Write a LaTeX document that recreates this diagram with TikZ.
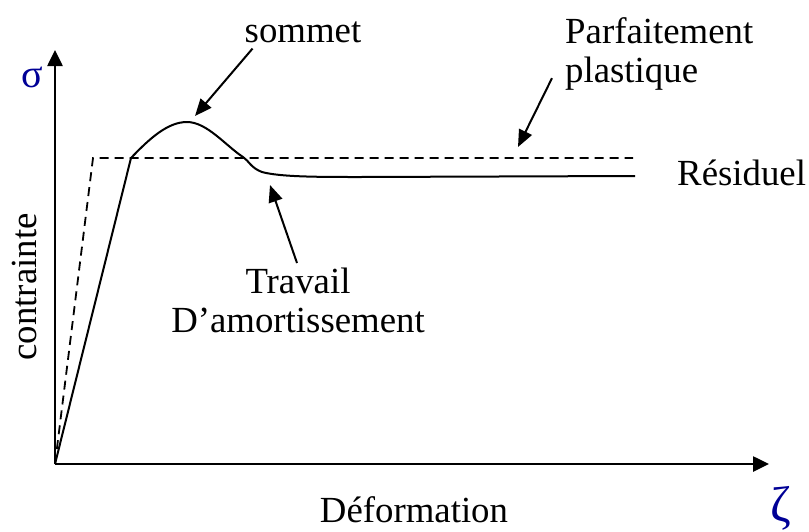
\documentclass[tikz,border=0pt]{standalone}
\usepackage{fontspec}
\setmainfont{Liberation Serif}
\usetikzlibrary{arrows.meta}
\definecolor{greekblue}{RGB}{0,0,150}

\begin{document}
\begin{tikzpicture}[x=1pt,y=-1pt,
  axis/.style={line width=2.6pt,-{Triangle[length=16pt,width=15pt]}},
  pointer/.style={line width=2pt,-{Triangle[length=17pt,width=14pt]}},
  curve/.style={line width=2pt,line join=round},
  plastic/.style={line width=1.8pt,dash pattern=on 9pt off 6pt},
  label node/.style={inner sep=0pt,font=\fontsize{36.8}{39}\selectfont},
  greek node/.style={inner sep=0pt,text=greekblue,font=\fontsize{40}{40}\selectfont}]
  \useasboundingbox (0,0) rectangle (809,531);

  \coordinate (O) at (55,464);
  \coordinate (ytip) at (55,50);
  \coordinate (xtip) at (769,464);
  \coordinate (peak) at (195,116);
  \coordinate (dampend) at (270,185);
  \coordinate (plateau) at (518,147);

  \node[greek node] (sigma) at (32,77) {σ};
  \node[greek node,font=\fontsize{50}{50}\selectfont] (zeta) at (781,508) {ζ};
  \node[label node,rotate=90] (stress) at (24,287) {contrainte};
  \node[label node,anchor=base] (strain) at (414,522) {Déformation};
  \node[label node,anchor=base] (sommet) at (303,42) {sommet};
  \node[label node,anchor=north west,align=left] (parf) at (565,17) {Parfaitement\\plastique};
  \node[label node,anchor=base west] (resid) at (677,185) {Résiduel};
  \node[label node,anchor=north,align=center] (trav) at (298,268) {Travail\\D’amortissement};

  % axes
  \draw[axis] (O) -- (ytip);
  \draw[axis] (O) -- (xtip);

  % perfectly plastic law
  \draw[plastic] (O) -- (93,158) -- (633,158);

  % softening law
  \draw[curve] (O) -- (131,158)
    .. controls (150,138) and (168,122) .. (187,122)
    .. controls (207,122) and (226,146) .. (243,157)
    .. controls (249,161) and (251,168) .. (262,172)
    .. controls (280,177) and (320,177) .. (360,177) -- (635,176);

  \draw[pointer] ([shift={(8pt,-6pt)}]sommet.south west) -- (peak);
  \draw[pointer] ([shift={(-13pt,12pt)}]parf.south west) -- (plateau);
  \draw[pointer] ([shift={(-1pt,5pt)}]trav.north) -- (dampend);
\end{tikzpicture}
\end{document}
